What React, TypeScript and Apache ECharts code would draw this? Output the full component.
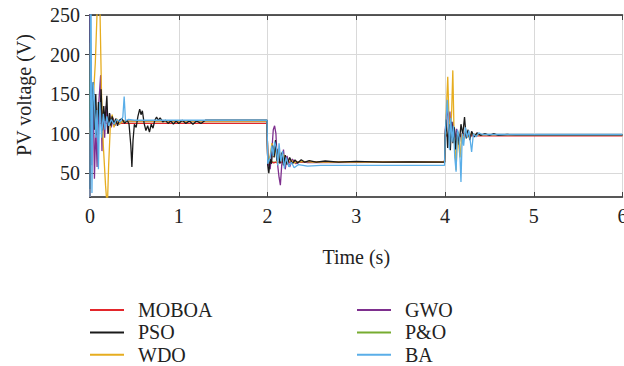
import React, { useEffect, useRef } from "react";
import * as echarts from "echarts";

const FONT = "Liberation Serif";

const seriesNames = ["MOBOA", "PSO", "WDO", "GWO", "P&O", "BA"];
const seriesColors = ["#e3262b", "#1a1a1a", "#e6ad1f", "#7e2f8e", "#77ac30", "#5aaee8"];
const legendLeftNames = ["MOBOA", "PSO", "WDO"];
const legendRightNames = ["GWO", "P&O", "BA"];
const yTickValues = [50, 100, 150, 200, 250];

const moboa: [number, number][] = [
  [0, 20], [0.004, 118], [0.012, 88], [0.022, 120], [0.035, 110], [0.05, 114], [0.08, 113], [1.995, 113],
  [2.003, 62], [2.02, 60], [2.04, 65], [2.07, 63], [2.1, 64], [3.995, 64],
  [4.003, 97.3], [6, 97.3],
];

const pso: [number, number][] = [
  [0, 30], [0.008, 175], [0.02, 135], [0.035, 165], [0.05, 105], [0.065, 150], [0.08, 98], [0.095, 140],
  [0.11, 118], [0.125, 156], [0.14, 104], [0.155, 135], [0.17, 116], [0.19, 148], [0.205, 100], [0.22, 126],
  [0.235, 110], [0.25, 122], [0.27, 112], [0.29, 119], [0.31, 110], [0.33, 117], [0.36, 119], [0.39, 113],
  [0.42, 117], [0.44, 112], [0.46, 85], [0.472, 58], [0.485, 92], [0.5, 112], [0.52, 108], [0.54, 122],
  [0.56, 131], [0.575, 124], [0.59, 129], [0.61, 113], [0.63, 104], [0.65, 110], [0.67, 102], [0.69, 112],
  [0.71, 107], [0.73, 117], [0.75, 121], [0.77, 117], [0.79, 120], [0.82, 115], [0.85, 117], [0.88, 113],
  [0.91, 116], [0.94, 112], [0.97, 116], [1.0, 113], [1.04, 117], [1.08, 113], [1.12, 116], [1.16, 112],
  [1.2, 116], [1.25, 113], [1.3, 117], [1.995, 117],
  [2.003, 60], [2.015, 50], [2.03, 68], [2.045, 62], [2.06, 85], [2.075, 70], [2.09, 92], [2.105, 66],
  [2.12, 81], [2.14, 62], [2.16, 76], [2.18, 60], [2.2, 73], [2.22, 61], [2.25, 70], [2.28, 62],
  [2.31, 67], [2.34, 63], [2.38, 67], [2.42, 64], [2.47, 66], [2.55, 64], [2.65, 65.5], [2.8, 64],
  [3.0, 65], [3.3, 64], [3.6, 64.5], [3.995, 64],
  [4.003, 100], [4.015, 118], [4.03, 82], [4.045, 112], [4.06, 79], [4.075, 115], [4.09, 88], [4.105, 108],
  [4.12, 80], [4.14, 104], [4.16, 86], [4.18, 112], [4.2, 99], [4.22, 121], [4.24, 94], [4.26, 105],
  [4.28, 92], [4.3, 103], [4.33, 96], [4.36, 101], [4.4, 98], [4.45, 100], [4.5, 98], [4.55, 100],
  [4.6, 98], [4.7, 99], [4.8, 98.5], [6, 98.5],
];

const wdo: [number, number][] = [
  [0, 100], [0.02, 125], [0.04, 150], [0.06, 190], [0.085, 270], [0.11, 270], [0.13, 150], [0.15, 85],
  [0.175, 35], [0.195, 5], [0.21, 60], [0.23, 112], [0.25, 124], [0.27, 108], [0.3, 119], [0.33, 112],
  [0.37, 116], [0.45, 116], [1.995, 116],
  [2.003, 64], [2.03, 72], [2.05, 88], [2.07, 71], [2.09, 84], [2.11, 62], [2.13, 80], [2.15, 65],
  [2.18, 74], [2.21, 62], [2.25, 68], [2.3, 63], [2.4, 65], [2.5, 64], [3.995, 64],
  [4.003, 95], [4.015, 130], [4.031, 172], [4.045, 118], [4.06, 96], [4.075, 128], [4.088, 180], [4.1, 112],
  [4.115, 80], [4.125, 54], [4.14, 100], [4.17, 70], [4.19, 100], [4.21, 92], [4.23, 103], [4.26, 96],
  [4.3, 100], [4.35, 98.5], [6, 98.5],
];

const gwo: [number, number][] = [
  [0, 260], [0.008, 140], [0.02, 60], [0.035, 150], [0.05, 43], [0.065, 110], [0.08, 58], [0.1, 140],
  [0.12, 174], [0.135, 78], [0.15, 130], [0.165, 95], [0.18, 135], [0.2, 100], [0.22, 125], [0.24, 108],
  [0.26, 120], [0.28, 110], [0.3, 118], [0.33, 112], [0.37, 116], [0.5, 116], [1.995, 116],
  [2.003, 62], [2.03, 55], [2.05, 80], [2.065, 105], [2.08, 110], [2.095, 100], [2.11, 65], [2.13, 45],
  [2.145, 35], [2.16, 60], [2.18, 80], [2.2, 55], [2.22, 72], [2.25, 58], [2.28, 68], [2.32, 62],
  [2.38, 65], [2.45, 63.5], [3.995, 64],
  [4.003, 105], [4.025, 135], [4.04, 110], [4.055, 128], [4.07, 95], [4.09, 115], [4.11, 92], [4.13, 106],
  [4.16, 95], [4.2, 101], [4.25, 97], [4.3, 99], [4.4, 98.5], [6, 98.5],
];

const pando: [number, number][] = [
  [0, 20], [0.005, 215], [0.015, 110], [0.03, 118], [0.05, 113], [1.995, 113],
  [2.003, 64], [3.995, 64],
  [4.003, 98.5], [6, 98.5],
];

const ba: [number, number][] = [
  [0, 20], [0.004, 260], [0.012, 260], [0.022, 25], [0.035, 165], [0.05, 140], [0.065, 95], [0.08, 130],
  [0.095, 55], [0.11, 140], [0.13, 95], [0.15, 125], [0.17, 105], [0.19, 122], [0.21, 110], [0.24, 118],
  [0.27, 112], [0.3, 118], [0.34, 115], [0.37, 121], [0.385, 147], [0.4, 116], [0.43, 118], [0.5, 117],
  [1.995, 117],
  [2.003, 62], [2.03, 70], [2.05, 85], [2.065, 72], [2.08, 90], [2.1, 82], [2.115, 60], [2.13, 88],
  [2.15, 65], [2.17, 78], [2.19, 56], [2.21, 70], [2.24, 58], [2.27, 64], [2.3, 57], [2.35, 61],
  [2.45, 59], [2.6, 60], [3.995, 60],
  [4.003, 100], [4.025, 143], [4.04, 115], [4.05, 80], [4.065, 120], [4.08, 90], [4.095, 110], [4.11, 70],
  [4.125, 52], [4.14, 105], [4.16, 95], [4.18, 39], [4.195, 100], [4.21, 85], [4.23, 108], [4.25, 95],
  [4.27, 104], [4.3, 77], [4.32, 100], [4.35, 96], [4.38, 101], [4.42, 99], [6, 99],
];

const seriesData: Record<string, [number, number][]> = {
  MOBOA: moboa, PSO: pso, WDO: wdo, GWO: gwo, "P&O": pando, BA: ba,
};
const drawOrder = ["P&O", "MOBOA", "GWO", "WDO", "PSO", "BA"];

export default function App() {
  const ref = useRef<HTMLDivElement>(null);
  useEffect(() => {
    if (!ref.current) return;
    const chart = echarts.init(ref.current, undefined, { renderer: "svg" });
    const axisLineStyle = { color: "#222", width: 1.5 };
    const legendBase = {
      orient: "vertical" as const,
      top: 299,
      icon: "rect",
      itemWidth: 34,
      itemHeight: 2,
      itemGap: 0.4,
      padding: 0,
      textStyle: { fontFamily: FONT, fontSize: 20, color: "#222", lineHeight: 22, padding: [0, 0, 0, 9] },
    };
    chart.setOption({
      animation: false,
      backgroundColor: "#fff",
      textStyle: { fontFamily: FONT },
      grid: { left: 90, right: 1.5, top: 15, bottom: 169, containLabel: false, outerBoundsMode: "none" },
      legend: [
        { ...legendBase, left: 90, data: legendLeftNames },
        { ...legendBase, left: 357, data: legendRightNames },
      ],
      xAxis: [
        {
          type: "value", min: 0, max: 6, interval: 1, position: "bottom",
          name: "Time (s)", nameLocation: "middle", nameGap: 50,
          nameTextStyle: { fontFamily: FONT, fontSize: 20, color: "#222" },
          axisLine: { show: true, lineStyle: axisLineStyle },
          axisTick: { show: true, inside: true, length: 5, lineStyle: { color: "#444" } },
          axisLabel: { fontFamily: FONT, fontSize: 20, color: "#222", margin: 9 },
          splitLine: { show: true, lineStyle: { color: "#d9d9d9", width: 1 } },
        },
        {
          type: "value", min: 0, max: 6, interval: 1, position: "top",
          axisLine: { show: true, lineStyle: axisLineStyle },
          axisTick: { show: true, inside: true, length: 5, lineStyle: { color: "#444" } },
          axisLabel: { show: false },
          splitLine: { show: false },
        },
      ],
      yAxis: [
        {
          type: "value", min: 20, max: 250, position: "left",
          name: "PV voltage (V)", nameLocation: "middle", nameGap: 56,
          nameTextStyle: { fontFamily: FONT, fontSize: 20, color: "#222", padding: [0, 0, 0, 22] },
          axisLine: { show: true, lineStyle: axisLineStyle },
          axisTick: { show: true, inside: true, length: 5, lineStyle: { color: "#444" }, customValues: yTickValues },
          axisLabel: { fontFamily: FONT, fontSize: 20, color: "#222", margin: 10, customValues: yTickValues },
          splitLine: { show: true, lineStyle: { color: "#d9d9d9", width: 1 } },
        },
        {
          type: "value", min: 20, max: 250, position: "right",
          axisLine: { show: true, lineStyle: axisLineStyle },
          axisTick: { show: true, inside: true, length: 5, lineStyle: { color: "#444" }, customValues: yTickValues },
          axisLabel: { show: false, customValues: yTickValues },
          splitLine: { show: false },
        },
      ],
      series: drawOrder.map((name) => {
        const i = seriesNames.indexOf(name);
        return {
          name,
          type: "line",
          xAxisIndex: 0,
          yAxisIndex: 0,
          data: seriesData[name],
          showSymbol: false,
          symbol: "none",
          clip: true,
          color: seriesColors[i],
          lineStyle: { color: seriesColors[i], width: 1.3 },
        };
      }),
    });
    return () => chart.dispose();
  }, []);
  return <div ref={ref} style={{ width: 624, height: 366, position: "absolute", left: 0, top: 0 }} />;
}
